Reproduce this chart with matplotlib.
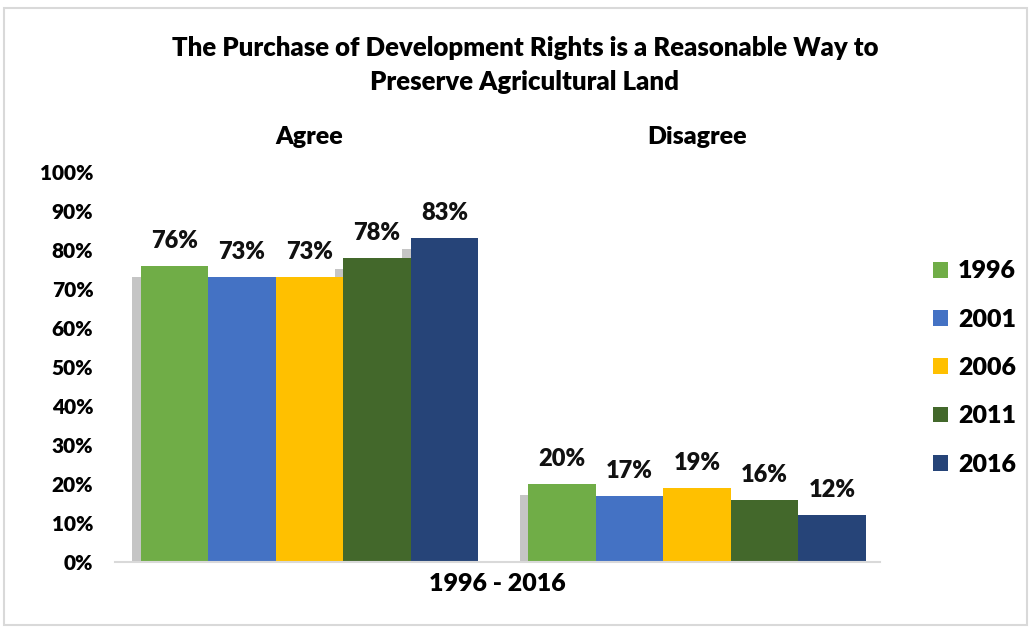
import numpy as np
import matplotlib
matplotlib.use("Agg")
import matplotlib.pyplot as plt
import matplotlib.patheffects as pe
from matplotlib.patches import Patch, Rectangle

plt.rcParams['font.family'] = ['Lato', 'DejaVu Sans']
plt.rcParams['font.weight'] = 'heavy'

# data
categories = ['Agree', 'Disagree']
years = ['1996', '2001', '2006', '2011', '2016']
values = {
    '1996': [76, 20],
    '2001': [73, 17],
    '2006': [73, 19],
    '2011': [78, 16],
    '2016': [83, 12],
}
colors = ['#70AD47', '#4472C4', '#FFC000', '#43682B', '#264478']
yticks = [0, 10, 20, 30, 40, 50, 60, 70, 80, 90, 100]

W, H = 1031, 629
fig = plt.figure(figsize=(W / 100, H / 100), dpi=100)
ax = fig.add_axes([115 / W, 1 - 562 / H, (880 - 115) / W, (562 - 172) / H])

x = np.arange(len(categories))
bw = 0.1742
n = len(years)

for i, (yr, c) in enumerate(zip(years, colors)):
    pos = x + (i - (n - 1) / 2) * bw
    # shadow layer under every bar
    ax.bar(pos, values[yr], bw, color=c, zorder=1,
           path_effects=[pe.SimplePatchShadow(offset=(-6, -8), shadow_rgbFace='#7f7f7f', alpha=0.45)])
    bars = ax.bar(pos, values[yr], bw, color=c, zorder=2, label=yr)
    ax.bar_label(bars, labels=[f'{v}%' for v in values[yr]], padding=10,
                 fontsize=17, fontweight='heavy', color='#111111')

ax.set_xlim(-0.502, 1.472)
ax.set_ylim(0, 100)
ax.set_yticks(yticks)
ax.set_yticklabels([f'{t}%' for t in yticks])
ax.set_xticks(x)
ax.set_xticklabels(categories)
ax.tick_params(axis='x', top=False, bottom=False, labeltop=True, labelbottom=False,
               labelsize=18, pad=14)
ax.tick_params(axis='y', left=False, labelsize=15, pad=12)
for lab in ax.get_xticklabels() + ax.get_yticklabels():
    lab.set_fontweight('heavy')
ax.set_xlabel('1996 - 2016', fontsize=18, fontweight='heavy', labelpad=8)

for s in ['top', 'right', 'left']:
    ax.spines[s].set_visible(False)
ax.spines['bottom'].set_color('#d9d9d9')
ax.spines['bottom'].set_linewidth(1.5)
ax.spines['bottom'].set_zorder(3)

fig.text(525 / W, 1 - 65 / H,
         'The Purchase of Development Rights is a Reasonable Way to\nPreserve Agricultural Land',
         ha='center', va='center', fontsize=18.5, fontweight='heavy', linespacing=1.5)

handles = [Patch(facecolor=c, label=yr) for yr, c in zip(years, colors)]
fig.legend(handles=handles, loc='center left', bbox_to_anchor=(933 / W, 1 - 368 / H),
           frameon=False, handlelength=0.6, handleheight=0.6,
           handletextpad=0.4, labelspacing=1.05, borderpad=0, borderaxespad=0,
           prop={'weight': 'heavy', 'size': 18})

fig.patches.append(Rectangle((4 / W, 4 / H), (W - 8) / W, (H - 12) / H,
                             transform=fig.transFigure, fill=False,
                             edgecolor='#d9d9d9', linewidth=1.5))

fig.savefig('out.png', dpi=100)
